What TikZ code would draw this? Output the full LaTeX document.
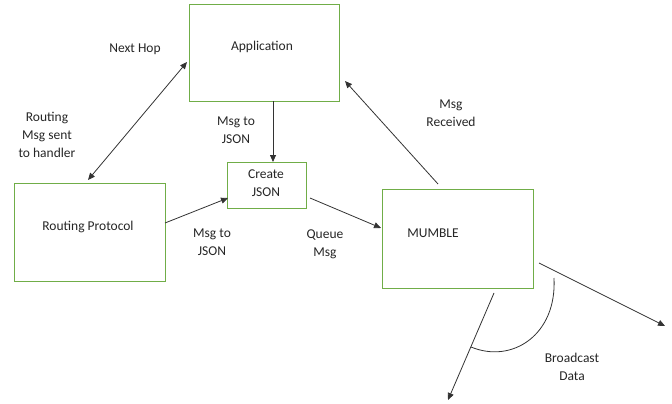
\documentclass[tikz,border=0pt]{standalone}
\usepackage{fontspec}
\setmainfont{Carlito}
\usetikzlibrary{arrows.meta}
\definecolor{boxgreen}{RGB}{112,173,71}
\begin{document}
\begin{tikzpicture}[x=1pt,y=-1pt,
  box/.style={draw=boxgreen,line width=0.9pt,fill=white,inner sep=0pt},
  lbl/.style={font=\fontsize{13.5}{18}\selectfont,align=center,text=black!85},
  conn/.style={draw=black!80,line width=0.8pt,-{Triangle[length=7pt,width=6pt]}},
  dconn/.style={draw=black!80,line width=0.8pt,{Triangle[length=7pt,width=6pt]}-{Triangle[length=7pt,width=6pt]}}]
\useasboundingbox (0,0) rectangle (672,404);
% boxes
\node[box,minimum width=150pt,minimum height=97pt] (app) at (264,52.5) {};
\node[lbl] at (262,47) {Application};
\node[box,minimum width=151pt,minimum height=98pt] (rp) at (89.5,232) {};
\node[lbl] at (88,227) {Routing Protocol};
\node[box,minimum width=79pt,minimum height=46pt] (cj) at (266.5,185) {};
\node[lbl] at (266,183.5) {Create\\JSON};
\node[box,minimum width=151pt,minimum height=99pt] (mb) at (457.5,238.5) {};
\node[lbl] at (433,233) {MUMBLE};
% connector end points
\coordinate (nhA) at (88,180);
\coordinate (nhB) at (187,62);
\coordinate (acA) at (273,101);
\coordinate (acB) at (273,162);
\coordinate (rcA) at (165,223);
\coordinate (rcB) at (228,198);
\coordinate (cmA) at (310,198);
\coordinate (cmB) at (381,228);
\coordinate (maA) at (438,184);
\coordinate (maB) at (345,81);
\coordinate (b1A) at (494,293);
\coordinate (b1B) at (448,400);
\coordinate (b2A) at (539,263);
\coordinate (b2B) at (665,326);
\coordinate (arcA) at (554,278);
\coordinate (arcB) at (471,347);
% connectors
\draw[dconn] (nhA) -- (nhB);
\draw[conn] (acA) -- (acB);
\draw[conn] (rcA) -- (rcB);
\draw[conn] (cmA) -- (cmB);
\draw[conn] (maA) -- (maB);
\draw[conn] (b1A) -- (b1B);
\draw[conn] (b2A) -- (b2B);
\draw[draw=black!80,line width=0.8pt] (arcA) .. controls (557,335) and (512,364) .. (arcB);
% labels
\node[lbl] at (135,49) {Next Hop};
\node[lbl] at (47,135) {Routing\\Msg sent\\to handler};
\node[lbl] at (236,130) {Msg to\\JSON};
\node[lbl] at (212,242.5) {Msg to\\JSON};
\node[lbl] at (325,244.5) {Queue\\Msg};
\node[lbl] at (451,113) {Msg\\Received};
\node[lbl] at (572,367) {Broadcast\\Data};
\end{tikzpicture}
\end{document}
